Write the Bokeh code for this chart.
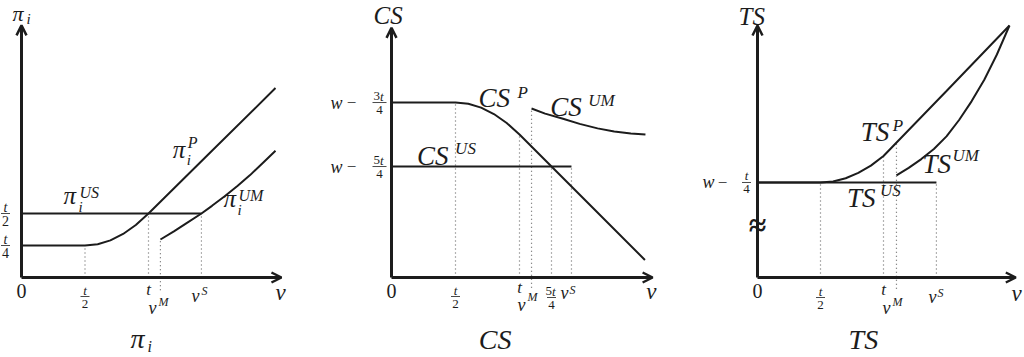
from bokeh.plotting import figure
from bokeh.models import Range1d, Arrow, OpenHead
from bokeh.layouts import row
from bokeh.core.properties import value
from bokeh.embed import file_html
from bokeh.resources import INLINE

# ---------------- data (units of t = 1) ----------------
# Panel 1: firm profit pi_i
pi_ticks = [0.5, 1.0, 1.094, 1.417]          # t/2, t, v^M, v^S
pi_levels = [0.25, 0.5]                       # t/4, t/2
pi_P_v = [0.0, 0.5, 0.6, 0.7, 0.8, 0.9, 1.0, 1.5, 2.0]
pi_P = [0.25, 0.25, 0.26, 0.29, 0.34, 0.41, 0.5, 0.99, 1.48]
pi_UM_v = [1.094, 1.2, 1.3, 1.417, 1.5, 1.6, 1.7, 1.8, 1.9, 2.0]
pi_UM = [0.297, 0.36, 0.425, 0.5, 0.56, 0.635, 0.715, 0.80, 0.895, 0.99]
pi_US_v = [0.0, 1.417]
pi_US = [0.5, 0.5]

# Panel 2: consumer surplus CS
cs_ticks = [0.5, 1.0, 1.094, 1.25, 1.406]     # t/2, t, v^M, 5t/4, v^S
cs_levels = [1.367, 0.867]                    # w-3t/4, w-5t/4
cs_P_v = [0.0, 0.5, 0.6, 0.7, 0.8, 0.9, 1.0, 1.5, 1.98]
cs_P = [1.367, 1.367, 1.357, 1.327, 1.277, 1.207, 1.117, 0.617, 0.137]
cs_UM_v = [1.094, 1.2, 1.34, 1.47, 1.61, 1.74, 1.87, 1.984]
cs_UM = [1.32, 1.28, 1.24, 1.20, 1.165, 1.14, 1.125, 1.117]
cs_US_v = [0.0, 1.406]
cs_US = [0.867, 0.867]

# Panel 3: total surplus TS
ts_ticks = [0.5, 1.0, 1.103, 1.42]            # t/2, t, v^M, v^S
ts_level = 0.754                              # w - t/4
ts_P_v = [0.0, 0.5, 0.6, 0.7, 0.8, 0.9, 1.0, 1.5, 2.0]
ts_P = [0.754, 0.754, 0.762, 0.788, 0.830, 0.888, 0.964, 1.48, 2.0]
ts_UM_v = [1.103, 1.2, 1.3, 1.4, 1.5, 1.6, 1.7, 1.8, 1.9, 2.0]
ts_UM = [0.81, 0.87, 0.94, 1.02, 1.12, 1.25, 1.40, 1.57, 1.77, 2.0]
ts_US_v = [0.0, 1.42]
ts_US = [0.754, 0.754]

# ---------------- styling ----------------
FONT = "Liberation Serif"
INK = "#1c1c1c"
DOT = "#666666"


def make_panel(width, origin_x, sx, sy, origin_y=277, height=357):
    p = figure(width=width, height=height, output_backend="svg", toolbar_location=None,
               x_range=Range1d(-origin_x / sx, (width - origin_x) / sx),
               y_range=Range1d((origin_y - height) / sy, origin_y / sy),
               min_border=0, x_axis_location=None, y_axis_location=None,
               outline_line_color=None)
    p.xgrid.visible = False
    p.ygrid.visible = False
    p.background_fill_color = "white"
    p.border_fill_color = "white"
    return dict(fig=p, sx=sx, sy=sy)


def put(P, x, y, s, size, italic=True, align="left", baseline="alphabetic", dx=0, dy=0, bold=False):
    # an 'alphabetic' request is placed as the em-middle 0.34 em above the baseline
    if baseline == "alphabetic":
        dy = dy + 0.34 * size
    style = ("bold " if bold else "") + ("italic" if italic else "")
    style = style.strip() or "normal"
    P["fig"].text(x=[x + dx / P["sx"]], y=[y + dy / P["sy"]], text=[s],
                  text_font=value(FONT), text_font_style=style,
                  text_font_size=value(f"{size}px"), text_align=align,
                  text_baseline="middle", text_color=INK)


def frac(P, x, y, num, den, dx=0, dy=0, size=13, w=9, num_digit=None):
    if num_digit:
        put(P, x, y, num_digit, size, italic=False, align="right", baseline="middle", dx=dx + 0.5, dy=dy + 6.5)
        put(P, x, y, num, size, align="left", baseline="middle", dx=dx + 0.5, dy=dy + 6.5)
    else:
        put(P, x, y, num, size, align="center", baseline="middle", dx=dx, dy=dy + 6.5)
    put(P, x, y, den, size, italic=False, align="center", baseline="middle", dx=dx, dy=dy - 7)
    P["fig"].segment(x0=[x + (dx - w / 2) / P["sx"]], x1=[x + (dx + w / 2) / P["sx"]],
                     y0=[y + dy / P["sy"]], y1=[y + dy / P["sy"]], line_color=INK, line_width=0.8)


def mlabel(P, x, y, base, size, sup=None, sup_dx=0, sup_dy=0, sub=None, sub_dx=0, sub_dy=0,
           small=16, dy=0):
    put(P, x, y, base, size, dy=dy)
    if sup:
        put(P, x, y, sup, small, dx=sup_dx, dy=dy + sup_dy)
    if sub:
        put(P, x, y, sub, small - 1, dx=sub_dx, dy=dy + sub_dy)


def axes(P, xend, yend):
    p = P["fig"]
    for (xe, ye) in [(xend, 0), (0, yend)]:
        p.add_layout(Arrow(end=OpenHead(size=10, line_width=2.5, line_color=INK),
                           x_start=0, y_start=0, x_end=xe, y_end=ye,
                           line_width=3, line_color=INK))


def dotted(P, xs, y0s, y1s):
    P["fig"].segment(x0=xs, x1=xs, y0=y0s, y1=y1s, line_color=DOT, line_width=1.2,
                     line_dash="1 3")


def curve(P, xs, ys):
    P["fig"].line(xs, ys, line_color=INK, line_width=2)


# ---------------- Panel 1 ----------------
P1 = make_panel(330, 21, 127, 128)
dotted(P1, pi_ticks, [0, 0, -0.10, 0], [pi_levels[0], pi_levels[1], pi_UM[0], pi_levels[1]])
curve(P1, pi_US_v, pi_US)
curve(P1, pi_P_v, pi_P)
curve(P1, pi_UM_v, pi_UM)
axes(P1, 2.047, 1.97)
put(P1, 0, 0, "0", 20, italic=False, align="center", baseline="middle", dy=-13)
frac(P1, pi_ticks[0], 0, "t", "2", dy=-19)
put(P1, pi_ticks[1], 0, "t", 17, align="center", baseline="middle", dy=-12)
put(P1, pi_ticks[2], 0, "v", 18, align="center", baseline="middle", dx=-8, dy=-30)
put(P1, pi_ticks[2], 0, "M", 12, align="left", baseline="middle", dx=-2, dy=-24)
put(P1, pi_ticks[3], 0, "v", 18, align="center", baseline="middle", dx=-6, dy=-18)
put(P1, pi_ticks[3], 0, "S", 12, align="left", baseline="middle", dx=0, dy=-13)
put(P1, 2.04, 0, "v", 23, align="center", baseline="middle", dy=-15)
frac(P1, 0, pi_levels[1], "t", "2", dx=-16, size=14)
frac(P1, 0, pi_levels[0], "t", "4", dx=-16, size=14)
put(P1, 0, 1.97, "π", 22, dx=-9, dy=4)
put(P1, 0, 1.97, "i", 15, dx=5, dy=1)
mlabel(P1, 0.33, pi_levels[1], "π", 25, sup="US", sup_dx=16, sup_dy=6, sub="i", sub_dx=15, sub_dy=-9, dy=10)
mlabel(P1, 1.19, 0.93, "π", 25, sup="P", sup_dx=15, sup_dy=11, sub="i", sub_dx=14, sub_dy=-7)
mlabel(P1, 1.59, 0.547, "π", 25, sup="UM", sup_dx=15, sup_dy=7, sub="i", sub_dx=14, sub_dy=-8)
put(P1, 0.858, -0.586, "π", 28, dy=4)
put(P1, 0.858, -0.586, "i", 16, dx=17, dy=1)

# ---------------- Panel 2 ----------------
P2 = make_panel(350, 61, 128, 128)
dotted(P2, cs_ticks, [0, 0, -0.08, 0, 0], [cs_levels[0], cs_P[6], cs_UM[0], cs_levels[1], cs_levels[1]])
curve(P2, cs_US_v, cs_US)
curve(P2, cs_P_v, cs_P)
curve(P2, cs_UM_v, cs_UM)
axes(P2, 2.04, 1.95)
put(P2, 0, 0, "0", 20, italic=False, align="center", baseline="middle", dy=-13)
frac(P2, cs_ticks[0], 0, "t", "2", dy=-19)
put(P2, cs_ticks[1], 0, "t", 17, align="center", baseline="middle", dy=-10)
put(P2, cs_ticks[2], 0, "v", 18, align="center", baseline="middle", dx=-10, dy=-27)
put(P2, cs_ticks[2], 0, "M", 12, align="left", baseline="middle", dx=-4, dy=-19)
frac(P2, cs_ticks[3], 0, "t", "4", dy=-20, num_digit="5")
put(P2, cs_ticks[4], 0, "v", 18, align="center", baseline="middle", dx=-7, dy=-15)
put(P2, cs_ticks[4], 0, "S", 12, align="left", baseline="middle", dx=-2, dy=-12)
put(P2, 2.03, 0, "v", 23, align="center", baseline="middle", dy=-14)
for lev, dig in zip(cs_levels, ["3", "5"]):
    put(P2, 0, lev, "w", 18, align="center", baseline="middle", dx=-55)
    put(P2, 0, lev, "−", 17, italic=False, align="center", baseline="middle", dx=-40)
    frac(P2, 0, lev, "t", "4", dx=-12, w=14, num_digit=dig)
put(P2, 0, 1.95, "CS", 25, dx=-18, dy=4)
mlabel(P2, 0.68, 1.33, "CS", 27, sup="P", sup_dx=39, sup_dy=9, small=17)
mlabel(P2, 1.24, 1.26, "CS", 27, sup="UM", sup_dx=38, sup_dy=10, small=17)
mlabel(P2, 0.20, 0.88, "CS", 27, sup="US", sup_dx=38, sup_dy=11, small=17)
put(P2, 0.81, -0.59, "CS", 28, align="center", dy=4)

# ---------------- Panel 3 ----------------
P3 = make_panel(344, 77, 126, 126)
dotted(P3, ts_ticks, [0, 0, -0.09, 0], [ts_level, ts_P[6], 1.07, ts_level])
curve(P3, ts_US_v, ts_US)
curve(P3, ts_P_v, ts_P)
curve(P3, ts_UM_v, ts_UM)
axes(P3, 2.05, 2.0)
put(P3, 0, 0.42, "≈", 32, italic=False, align="center", baseline="middle", bold=True)
put(P3, 0, 0, "0", 20, italic=False, align="center", baseline="middle", dy=-13)
frac(P3, ts_ticks[0], 0, "t", "2", dy=-20)
put(P3, ts_ticks[1], 0, "t", 17, align="center", baseline="middle", dy=-12)
put(P3, ts_ticks[2], 0, "v", 18, align="center", baseline="middle", dx=-10, dy=-30)
put(P3, ts_ticks[2], 0, "M", 12, align="left", baseline="middle", dx=-4, dy=-24)
put(P3, ts_ticks[3], 0, "v", 18, align="center", baseline="middle", dx=-4, dy=-19)
put(P3, ts_ticks[3], 0, "S", 12, align="left", baseline="middle", dx=1, dy=-15)
put(P3, 2.056, 0, "v", 23, align="center", baseline="middle", dy=-16)
put(P3, 0, ts_level, "w", 18, align="center", baseline="middle", dx=-49)
put(P3, 0, ts_level, "−", 17, italic=False, align="center", baseline="middle", dx=-35)
frac(P3, 0, ts_level, "t", "4", dx=-11, size=13)
put(P3, 0, 2.0, "TS", 25, dx=-19, dy=1)
mlabel(P3, 0.82, 1.08, "TS", 27, sup="P", sup_dx=32, sup_dy=10, small=17)
mlabel(P3, 1.31, 0.83, "TS", 27, sup="UM", sup_dx=30, sup_dy=12, small=17)
mlabel(P3, 0.71, 0.56, "TS", 27, sup="US", sup_dx=33, sup_dy=11, small=17)
put(P3, 0.84, -0.60, "TS", 28, align="center", dy=4)

layout = row(P1["fig"], P2["fig"], P3["fig"], spacing=0)
open("out.html", "w").write(file_html(layout, INLINE))
